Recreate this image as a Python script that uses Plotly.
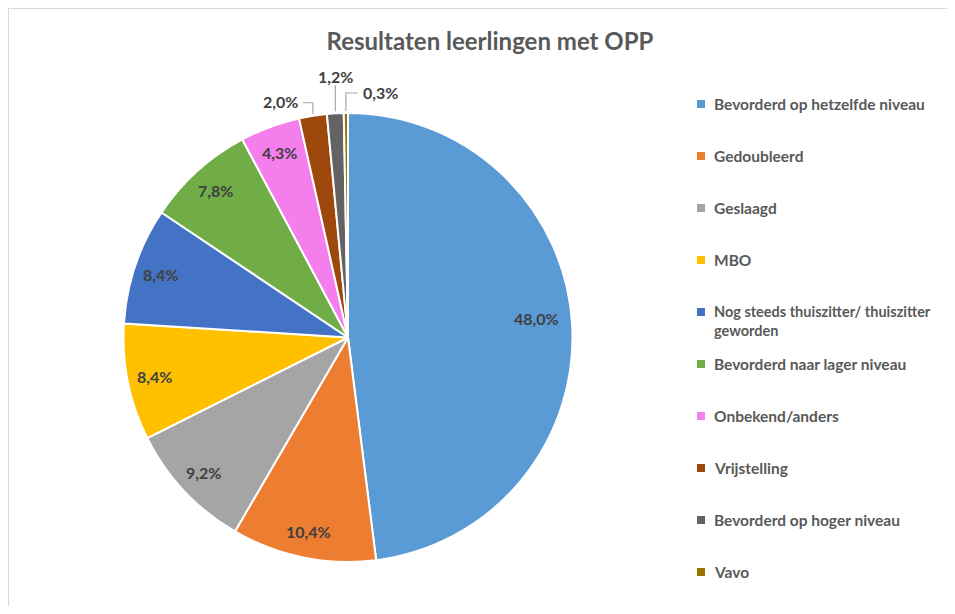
import math
import plotly.graph_objects as go

# data (percentages)
categories = [
    "Bevorderd op hetzelfde niveau",
    "Gedoubleerd",
    "Geslaagd",
    "MBO",
    "Nog steeds thuiszitter/ thuiszitter geworden",
    "Bevorderd naar lager niveau",
    "Onbekend/anders",
    "Vrijstelling",
    "Bevorderd op hoger niveau",
    "Vavo",
]
values = [48.0, 10.4, 9.2, 8.4, 8.4, 7.8, 4.3, 2.0, 1.2, 0.3]
colors = [
    "#5B9BD5", "#ED7D31", "#A5A5A5", "#FFC000", "#4472C4",
    "#70AD47", "#F47FEC", "#9E480E", "#636363", "#997300",
]
title = "Resultaten leerlingen met OPP"

# the page puts the figure 8px in from the top-left corner
OFF = 8
W, H = 955 - 2 * OFF, 614 - 2 * OFF
CX, CY, R = 348, 337.5, 224.5  # pie centre / radius in window pixels
FONT = "Lato"
TEXT_DARK = "#404040"
TEXT_GREY = "#595959"


def to_paper(x, y):
    return (x - OFF) / W, 1 - (y - OFF) / H


def fmt(v):
    return f"{v:.1f}".replace(".", ",") + "%"


dx0, dy1 = to_paper(CX - R, CY - R)
dx1, dy0 = to_paper(CX + R, CY + R)

fig = go.Figure(
    go.Pie(
        labels=categories,
        values=values,
        sort=False,
        direction="clockwise",
        rotation=0,
        marker=dict(colors=colors, line=dict(color="white", width=2)),
        textinfo="none",
        hoverinfo="label+percent",
        showlegend=False,
        domain=dict(x=[dx0, dx1], y=[dy0, dy1]),
    )
)

annotations = []
shapes = []
label_font = dict(family=FONT, size=16, color=TEXT_DARK, weight="bold")

# data labels: inside for the big slices, outside with elbow leader lines for the small ones
outside = {7: ("left", -10, -11), 8: ("up", 0, -26), 9: ("right", 12, -18)}
total = sum(values)
cum = 0.0
for i, v in enumerate(values):
    mid = (cum + v / 2) / total
    cum += v
    ang = math.radians(90 - 360 * mid)
    if i not in outside:
        frac = 0.84 if i == 0 else 0.88
        x, y = CX + frac * R * math.cos(ang), CY - frac * R * math.sin(ang)
        if i == 0:
            y -= 7  # Excel nudges the big label up a little
        px, py = to_paper(x, y)
        annotations.append(dict(
            x=px, y=py, xref="paper", yref="paper", text=fmt(v), showarrow=False,
            xanchor="center", yanchor="middle", font=label_font,
        ))
        continue
    side, dx, dy = outside[i]
    ex, ey = CX + R * math.cos(ang), CY - R * math.sin(ang)
    ey -= 2
    pts = [(ex, ey), (ex, ey + dy)]
    if side == "left":
        pts.append((ex + dx, ey + dy))
        tx, ty, anchor = ex + dx - 3, ey + dy - 1, "right"
    elif side == "right":
        pts.append((ex + dx, ey + dy))
        tx, ty, anchor = ex + dx + 3, ey + dy - 1, "left"
    else:
        tx, ty, anchor = ex, ey + dy - 9, "center"
    path = "M " + " L ".join(f"{to_paper(a, b)[0]},{to_paper(a, b)[1]}" for a, b in pts)
    shapes.append(dict(type="path", path=path, xref="paper", yref="paper",
                       line=dict(color="#A6A6A6", width=1.2)))
    px, py = to_paper(tx, ty)
    annotations.append(dict(
        x=px, y=py, xref="paper", yref="paper", text=fmt(v), showarrow=False,
        xanchor=anchor, yanchor="middle", font=label_font,
    ))

# hand-drawn legend to get the wide Excel-style spacing
LEG_X, LEG_Y0, LEG_STEP = 701, 104, 52
for i, name in enumerate(categories):
    y = LEG_Y0 + i * LEG_STEP
    label = name.replace("thuiszitter/ thuiszitter ", "thuiszitter/ thuiszitter<br>")
    size = 14.5 if "<br>" in label else 15.5
    x0, y0 = to_paper(LEG_X - 4, y + 4)
    x1, y1 = to_paper(LEG_X + 4, y - 4)
    shapes.append(dict(type="rect", x0=x0, y0=y0, x1=x1, y1=y1, xref="paper", yref="paper",
                       fillcolor=colors[i], line=dict(width=0)))
    tx, ty = to_paper(LEG_X + 11, y - 11)
    annotations.append(dict(
        x=tx, y=ty, xref="paper", yref="paper", text=label, showarrow=False,
        xanchor="left", yanchor="top", align="left",
        font=dict(family=FONT, size=size, color=TEXT_GREY, weight="bold"),
    ))

# light chart-area border along the top and left edges
shapes.append(dict(type="line", x0=0, x1=0, y0=0, y1=1, xref="paper", yref="paper",
                   line=dict(color="#D9D9D9", width=2)))
shapes.append(dict(type="line", x0=0, x1=1, y0=1, y1=1, xref="paper", yref="paper",
                   line=dict(color="#D9D9D9", width=2)))

tx, ty = to_paper(490, 42)
fig.update_layout(
    width=W,
    height=H,
    title=dict(
        text=title, x=tx, xanchor="center", y=ty, yanchor="middle",
        font=dict(family=FONT, size=24, color=TEXT_GREY, weight="bold"),
    ),
    annotations=annotations,
    shapes=shapes,
    margin=dict(l=0, r=0, t=0, b=0),
    paper_bgcolor="white",
    plot_bgcolor="white",
)

fig.write_html("out.html")
